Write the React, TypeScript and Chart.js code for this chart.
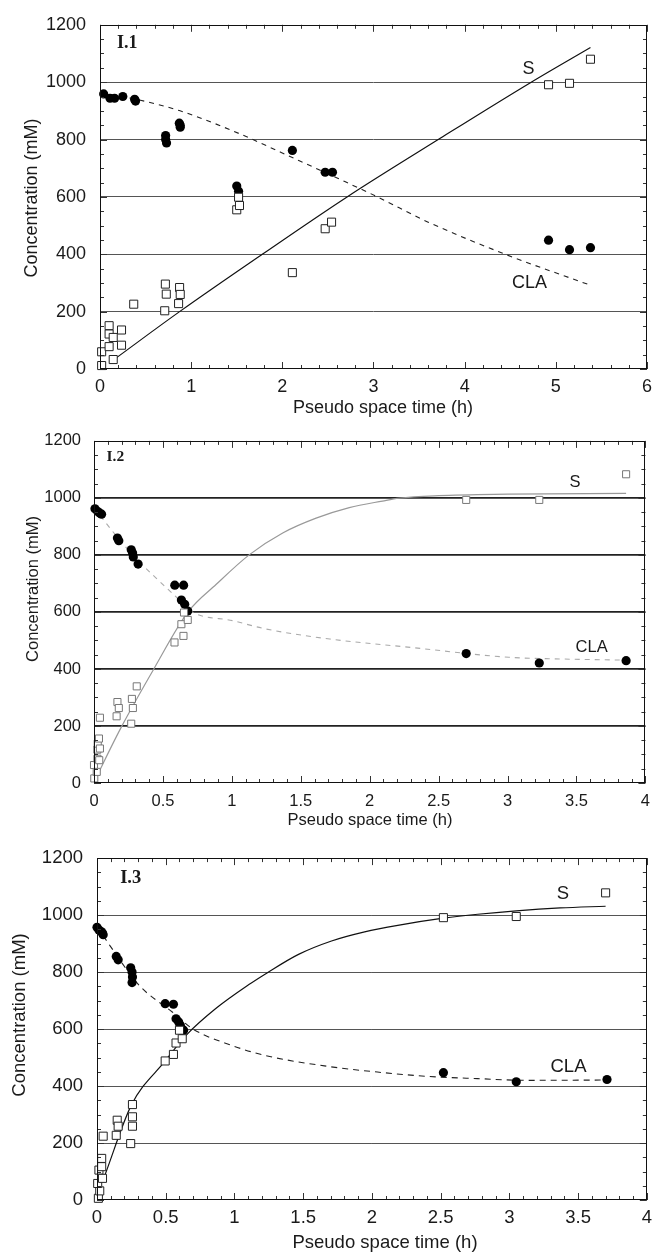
import React, { useEffect, useRef } from "react";
import { Chart, registerables } from "chart.js";

Chart.register(...registerables);

type Pt = [number, number];

// ---------- tick labels ----------
const X_TICKS_I1 = [0, 1, 2, 3, 4, 5, 6];
const X_TICKS_I23 = [0, 0.5, 1, 1.5, 2, 2.5, 3, 3.5, 4];
const Y_TICKS = [0, 200, 400, 600, 800, 1000, 1200];

// ---------- Panel I.1 ----------
const I1_CLA_POINTS: Pt[] = [
  [0.04, 959], [0.11, 944], [0.16, 944], [0.25, 950], [0.38, 940], [0.39, 934],
  [0.72, 814], [0.72, 800], [0.73, 788], [0.87, 857], [0.88, 850], [0.88, 843],
  [1.5, 638], [1.52, 620], [2.11, 762], [2.47, 686], [2.55, 686],
  [4.92, 449], [5.15, 416], [5.38, 423],
];
const I1_S_POINTS: Pt[] = [
  [0.018, 12], [0.018, 60], [0.1, 151], [0.1, 122], [0.145, 110], [0.236, 136],
  [0.1, 78], [0.236, 83], [0.145, 33], [0.37, 226], [0.717, 296], [0.727, 261],
  [0.71, 203], [0.873, 284], [0.88, 260], [0.862, 228], [1.5, 555], [1.52, 599],
  [1.53, 570], [2.11, 336], [2.47, 489], [2.54, 512], [4.92, 991], [5.15, 996],
  [5.38, 1080],
];
const I1_S_CURVE: Pt[] = [
  [0.145, 31], [0.873, 200], [1.78, 400], [2.71, 600], [3.71, 800], [4.73, 1000], [5.38, 1121],
];
const I1_CLA_CURVE: Pt[] = [
  [0, 962], [0.4, 940], [0.87, 901], [1.45, 831], [2.18, 727], [2.62, 663],
  [3.05, 599], [3.6, 512], [4.47, 397], [5.38, 292],
];

// ---------- Panel I.2 ----------
const I2_CLA_POINTS: Pt[] = [
  [0.007, 962], [0.027, 952], [0.043, 946], [0.055, 943], [0.17, 859], [0.18, 850],
  [0.27, 818], [0.28, 807], [0.285, 793], [0.32, 768], [0.586, 694], [0.65, 694],
  [0.634, 642], [0.658, 627], [0.68, 603], [2.7, 454], [3.23, 421], [3.86, 429],
];
const I2_S_POINTS: Pt[] = [
  [0.002, 16], [0.0, 63], [0.02, 39], [0.025, 85], [0.024, 117], [0.027, 138],
  [0.036, 156], [0.043, 121], [0.038, 80], [0.043, 229], [0.164, 234], [0.17, 284],
  [0.18, 263], [0.27, 208], [0.275, 295], [0.282, 263], [0.31, 339], [0.584, 493],
  [0.634, 557], [0.649, 516], [0.653, 598], [0.68, 572], [2.7, 993], [3.23, 993],
  [3.86, 1083],
];
const I2_S_CURVE: Pt[] = [
  [0, 4], [0.198, 196], [0.434, 400], [0.682, 600], [0.887, 697], [1.128, 801],
  [1.369, 877], [1.611, 929], [1.852, 966], [2.093, 989], [2.213, 999], [2.5, 1008],
  [3.0, 1013], [3.86, 1016],
];
const I2_CLA_CURVE: Pt[] = [
  [0, 965], [0.17, 862], [0.3, 790], [0.43, 728], [0.58, 660], [0.7, 603],
  [1.01, 569], [1.25, 540], [1.71, 505], [2.31, 475], [3.01, 441], [3.39, 435], [3.86, 431],
];

// ---------- Panel I.3 ----------
const I3_CLA_POINTS: Pt[] = [
  [0, 957], [0.014, 948], [0.03, 942], [0.04, 937], [0.045, 931], [0.14, 855],
  [0.154, 843], [0.245, 815], [0.255, 800], [0.258, 783], [0.255, 763], [0.496, 689],
  [0.556, 687], [0.575, 636], [0.594, 625], [0.606, 613], [0.63, 596],
  [2.52, 447], [3.05, 415], [3.71, 423],
];
const I3_S_POINTS: Pt[] = [
  [0.01, 6], [0.02, 32], [0.005, 58], [0.014, 105], [0.034, 117], [0.034, 146],
  [0.04, 76], [0.045, 224], [0.14, 227], [0.147, 280], [0.154, 259], [0.245, 198],
  [0.258, 292], [0.258, 259], [0.258, 335], [0.496, 488], [0.556, 511], [0.575, 551],
  [0.6, 596], [0.62, 566], [2.52, 991], [3.05, 995], [3.7, 1078],
];
const I3_S_CURVE: Pt[] = [
  [0.058, 88], [0.25, 333], [0.496, 488], [0.648, 578], [0.864, 672], [1.105, 756],
  [1.237, 797], [1.466, 862], [1.706, 909], [1.947, 941], [2.188, 964], [2.52, 989],
  [2.77, 1003], [3.05, 1015], [3.37, 1025], [3.7, 1031],
];
const I3_CLA_CURVE: Pt[] = [
  [0, 960], [0.094, 893], [0.31, 752], [0.55, 659], [0.695, 601], [0.984, 542],
  [1.225, 507], [1.68, 469], [2.04, 449], [2.4, 434], [2.77, 426], [3.13, 420], [3.71, 421],
];

const SANS = "'Liberation Sans', Arial, Helvetica, sans-serif";
const SERIF = "'Liberation Serif', 'Times New Roman', serif";

type Panel = {
  name: string;
  top: number;
  height: number;
  plot: { left: number; right: number; top: number; bottom: number };
  xTicks: number[];
  xMinor: number;
  font: number;
  yLabelPad: number;
  xLabelPad: number;
  yTitle: [number, number];
  xTitle: [number, number];
  nameAt: Pt;
  nameSize: number;
  sAt: Pt;
  claAt: Pt;
  labelSize: number;
  claPts: Pt[];
  sPts: Pt[];
  sCurve: Pt[];
  claCurve: Pt[];
  gridColor: string;
  gridWidth: number;
  curveColor: string;
  dashColor: string;
  squareColor: string;
  squareRadius: number;
  dash: number[];
};

const PANELS: Panel[] = [
  {
    name: "I.1", top: 0, height: 418,
    plot: { left: 100, right: 650, top: 24, bottom: 369 },
    xTicks: X_TICKS_I1, xMinor: 0.2, font: 18, yLabelPad: 14, xLabelPad: 7,
    yTitle: [32, 198], xTitle: [383, 408],
    nameAt: [0.3, 1134], nameSize: 18, sAt: [4.7, 1047], claAt: [4.71, 299], labelSize: 18,
    claPts: I1_CLA_POINTS, sPts: I1_S_POINTS, sCurve: I1_S_CURVE, claCurve: I1_CLA_CURVE,
    gridColor: "#555", gridWidth: 1, curveColor: "#111", dashColor: "#222",
    squareColor: "#222", squareRadius: 5.7, dash: [5, 5],
  },
  {
    name: "I.2", top: 418, height: 415,
    plot: { left: 94, right: 647, top: 21, bottom: 365 },
    xTicks: X_TICKS_I23, xMinor: 0.1, font: 16.5, yLabelPad: 13, xLabelPad: 9,
    yTitle: [33, 171], xTitle: [370, 402],
    nameAt: [0.155, 1144], nameSize: 15.5, sAt: [3.49, 1053], claAt: [3.61, 474], labelSize: 16.5,
    claPts: I2_CLA_POINTS, sPts: I2_S_POINTS, sCurve: I2_S_CURVE, claCurve: I2_CLA_CURVE,
    gridColor: "#222", gridWidth: 1.8, curveColor: "#999", dashColor: "#aaa",
    squareColor: "#777", squareRadius: 5, dash: [5, 5],
  },
  {
    name: "I.3", top: 833, height: 424,
    plot: { left: 97, right: 651, top: 25, bottom: 367 },
    xTicks: X_TICKS_I23, xMinor: 0.1, font: 18.5, yLabelPad: 14, xLabelPad: 7,
    yTitle: [20, 182], xTitle: [385, 410],
    nameAt: [0.245, 1128], nameSize: 18.5, sAt: [3.39, 1074], claAt: [3.43, 467], labelSize: 18.5,
    claPts: I3_CLA_POINTS, sPts: I3_S_POINTS, sCurve: I3_S_CURVE, claCurve: I3_CLA_CURVE,
    gridColor: "#555", gridWidth: 1, curveColor: "#111", dashColor: "#222",
    squareColor: "#222", squareRadius: 5.7, dash: [6, 5],
  },
];

const toXY = (pts: Pt[]) => pts.map(([x, y]) => ({ x, y }));

const frameTicksPlugin = {
  id: "frameTicks",
  afterDraw(chart: any, _args: any, opts: any) {
    const { ctx, chartArea: a, scales } = chart;
    const xs = scales.x;
    const ys = scales.y;
    ctx.save();
    ctx.strokeStyle = "#333";
    ctx.lineWidth = 1;
    ctx.beginPath();
    const nx = Math.round((xs.max - xs.min) / opts.xMinor);
    for (let i = 0; i <= nx; i++) {
      const v = xs.min + i * opts.xMinor;
      const major = opts.xMajor.some((t: number) => Math.abs(t - v) < 1e-6);
      const L = major ? 7 : 4;
      const px = Math.round(xs.getPixelForValue(v)) + 0.5;
      ctx.moveTo(px, a.bottom);
      ctx.lineTo(px, a.bottom - L);
      ctx.moveTo(px, a.top);
      ctx.lineTo(px, a.top + L);
    }
    const ny = Math.round((ys.max - ys.min) / opts.yMinor);
    for (let i = 0; i <= ny; i++) {
      const v = ys.min + i * opts.yMinor;
      const major = opts.yMajor.some((t: number) => Math.abs(t - v) < 1e-6);
      const L = major ? 7 : 4;
      const py = Math.round(ys.getPixelForValue(v)) + 0.5;
      ctx.moveTo(a.left, py);
      ctx.lineTo(a.left + L, py);
      ctx.moveTo(a.right, py);
      ctx.lineTo(a.right - L, py);
    }
    ctx.stroke();
    ctx.strokeStyle = "#111";
    ctx.strokeRect(
      Math.round(a.left) + 0.5,
      Math.round(a.top) + 0.5,
      Math.round(a.right - a.left) - 1,
      Math.round(a.bottom - a.top) - 1
    );
    ctx.restore();
  },
};

const textPlugin = {
  id: "panelText",
  afterDraw(chart: any, _args: any, opts: any) {
    const ctx = chart.ctx;
    for (const t of opts.items) {
      ctx.save();
      ctx.font = t.font;
      ctx.fillStyle = t.color || "#1a1a1a";
      ctx.textAlign = "center";
      ctx.textBaseline = "middle";
      let x: number;
      let y: number;
      if (t.data) {
        x = chart.scales.x.getPixelForValue(t.data[0]);
        y = chart.scales.y.getPixelForValue(t.data[1]);
      } else {
        x = t.px[0];
        y = t.px[1];
      }
      ctx.translate(x, y);
      if (t.rotate) ctx.rotate(-Math.PI / 2);
      ctx.fillText(t.text, 0, 0);
      ctx.restore();
    }
  },
};

function makeConfig(p: Panel): any {
  const W = 659;
  return {
    type: "scatter",
    data: {
      datasets: [
        {
          data: toXY(p.sPts),
          pointStyle: "rect",
          pointRadius: p.squareRadius,
          backgroundColor: "#ffffff",
          borderColor: p.squareColor,
          borderWidth: 1,
          order: 0,
          clip: 10,
        },
        {
          data: toXY(p.claPts),
          pointStyle: "circle",
          pointRadius: 4.6,
          backgroundColor: "#000000",
          borderColor: "#000000",
          borderWidth: 0,
          order: 1,
          clip: 10,
        },
        {
          data: toXY(p.sCurve),
          showLine: true,
          pointRadius: 0,
          borderColor: p.curveColor,
          borderWidth: 1.2,
          cubicInterpolationMode: "monotone",
          fill: false,
          order: 2,
        },
        {
          data: toXY(p.claCurve),
          showLine: true,
          pointRadius: 0,
          borderColor: p.dashColor,
          borderWidth: 1.1,
          borderDash: p.dash,
          cubicInterpolationMode: "monotone",
          fill: false,
          order: 3,
        },
      ],
    },
    options: {
      responsive: false,
      animation: false,
      events: [],
      devicePixelRatio: 1,
      layout: {
        padding: { left: 0, right: W - p.plot.right, top: p.plot.top, bottom: 0 },
      },
      scales: {
        x: {
          type: "linear",
          min: p.xTicks[0],
          max: p.xTicks[p.xTicks.length - 1],
          afterBuildTicks: (s: any) => {
            s.ticks = p.xTicks.map((v) => ({ value: v }));
          },
          afterFit: (s: any) => {
            s.height = p.height - p.plot.bottom;
          },
          grid: { display: false, drawTicks: false },
          border: { display: false },
          ticks: {
            padding: p.xLabelPad,
            color: "#1a1a1a",
            font: { family: SANS, size: p.font },
            maxRotation: 0,
            autoSkip: false,
            callback: (v: any) => String(v),
          },
          title: { display: false },
        },
        y: {
          type: "linear",
          min: 0,
          max: 1200,
          afterBuildTicks: (s: any) => {
            s.ticks = Y_TICKS.map((v) => ({ value: v }));
          },
          afterFit: (s: any) => {
            s.width = p.plot.left;
          },
          grid: {
            drawTicks: false,
            color: (c: any) =>
              c.tick && (c.tick.value === 0 || c.tick.value === 1200) ? "rgba(0,0,0,0)" : p.gridColor,
            lineWidth: p.gridWidth,
          },
          border: { display: false },
          ticks: {
            padding: p.yLabelPad,
            color: "#1a1a1a",
            font: { family: SANS, size: p.font },
            autoSkip: false,
            callback: (v: any) => String(v),
          },
          title: { display: false },
        },
      },
      plugins: {
        legend: { display: false },
        tooltip: { enabled: false },
        frameTicks: { xMinor: p.xMinor, xMajor: p.xTicks, yMinor: 50, yMajor: Y_TICKS },
        panelText: {
          items: [
            { text: p.name, data: p.nameAt, font: `bold ${p.nameSize}px ${SERIF}` },
            { text: "S", data: p.sAt, font: `${p.labelSize}px ${SANS}` },
            { text: "CLA", data: p.claAt, font: `${p.labelSize}px ${SANS}` },
            { text: "Concentration (mM)", px: p.yTitle, rotate: true, font: `${p.font}px ${SANS}` },
            { text: "Pseudo space time (h)", px: p.xTitle, font: `${p.font}px ${SANS}` },
          ],
        },
      },
    },
    plugins: [frameTicksPlugin, textPlugin],
  };
}

function PanelChart({ panel }: { panel: Panel }) {
  const ref = useRef<HTMLCanvasElement | null>(null);
  useEffect(() => {
    if (!ref.current) return;
    const chart = new Chart(ref.current, makeConfig(panel));
    return () => chart.destroy();
  }, [panel]);
  return (
    <div style={{ position: "absolute", left: 0, top: panel.top, width: 659, height: panel.height }}>
      <canvas ref={ref} width={659} height={panel.height} style={{ display: "block", width: 659, height: panel.height }} />
    </div>
  );
}

export default function App() {
  return (
    <div style={{ position: "absolute", left: 0, top: 0, width: 659, height: 1257, background: "#ffffff", overflow: "hidden" }}>
      {PANELS.map((p) => (
        <PanelChart key={p.name} panel={p} />
      ))}
    </div>
  );
}
